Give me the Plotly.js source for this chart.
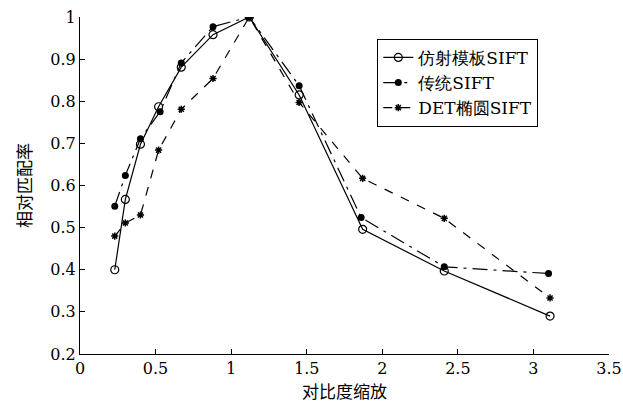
<!DOCTYPE html>
<html><head><meta charset="utf-8">
<script src="https://cdn.plot.ly/plotly-3.0.1.min.js"></script>
<style>html,body{margin:0;padding:0;background:#fff}</style>
</head><body>
<div id="chart" style="width:623px;height:409px"></div>
<script>
var xAffine = [0.23, 0.30, 0.40, 0.52, 0.67, 0.88, 1.12, 1.45, 1.87, 2.41, 3.11];
var yAffine = [0.40, 0.567, 0.698, 0.787, 0.881, 0.958, 1.0, 0.815, 0.496, 0.397, 0.290];
var xTrad = [0.23, 0.30, 0.40, 0.53, 0.67, 0.88, 1.12, 1.45, 1.86, 2.41, 3.10];
var yTrad = [0.551, 0.624, 0.711, 0.775, 0.891, 0.977, 1.0, 0.837, 0.524, 0.407, 0.391];
var xDet = [0.23, 0.30, 0.40, 0.52, 0.67, 0.88, 1.12, 1.45, 1.87, 2.41, 3.11];
var yDet = [0.480, 0.511, 0.530, 0.684, 0.781, 0.854, 1.0, 0.797, 0.617, 0.522, 0.333];
var names = ['仿射模板SIFT', '传统SIFT', 'DET椭圆SIFT'];
var xTicks = [0, 0.5, 1, 1.5, 2, 2.5, 3, 3.5];
var yTicks = [0.2, 0.3, 0.4, 0.5, 0.6, 0.7, 0.8, 0.9, 1];

var serif = 'DejaVu Serif';
var cjk = 'Noto Sans CJK SC';
var traces = [
  {x: xAffine, y: yAffine, name: names[0], mode: 'lines+markers',
   line: {color: '#000', width: 1.2, dash: 'solid'},
   marker: {symbol: 'circle-open', size: 8, color: '#000', line: {width: 1.2, color: '#000'}}},
  {x: xTrad, y: yTrad, name: names[1], mode: 'lines+markers',
   line: {color: '#000', width: 1.2, dash: 'longdashdot'},
   marker: {symbol: 'circle', size: 7, color: '#000'}},
  {x: xDet, y: yDet, name: names[2], mode: 'lines+markers',
   line: {color: '#000', width: 1.2, dash: 'dash'},
   marker: {symbol: 'asterisk-open', size: 6, color: '#000', line: {width: 1.5, color: '#000'}}}
];
var layout = {
  width: 623, height: 409,
  margin: {l: 80, r: 14, t: 17, b: 55},
  paper_bgcolor: '#fff', plot_bgcolor: '#fff',
  font: {family: serif, size: 16, color: '#000'},
  showlegend: true,
  legend: {x: 0.562, y: 0.935, xanchor: 'left', yanchor: 'top',
    bordercolor: '#000', borderwidth: 1, bgcolor: '#fff',
    font: {family: serif, size: 17, color: '#000'}, tracegroupgap: 0, itemwidth: 30},
  xaxis: {range: [0, 3.5], tickvals: xTicks, ticktext: xTicks.map(String),
    showline: true, linecolor: '#000', linewidth: 1, mirror: false,
    ticks: 'inside', ticklen: 5, tickcolor: '#000', showgrid: false, zeroline: false,
    tickfont: {family: serif, size: 16},
    title: {text: '对比度缩放', font: {family: cjk, size: 17}, standoff: 8}},
  yaxis: {range: [0.2, 1], tickvals: yTicks, ticktext: yTicks.map(String),
    showline: true, linecolor: '#000', linewidth: 1, mirror: false,
    ticks: 'inside', ticklen: 5, tickcolor: '#000', showgrid: false, zeroline: false,
    tickfont: {family: serif, size: 16},
    title: {text: '相对匹配率', font: {family: cjk, size: 17}, standoff: 14}}
};
Plotly.newPlot('chart', traces, layout, {displayModeBar: false});
</script>
</body></html>
